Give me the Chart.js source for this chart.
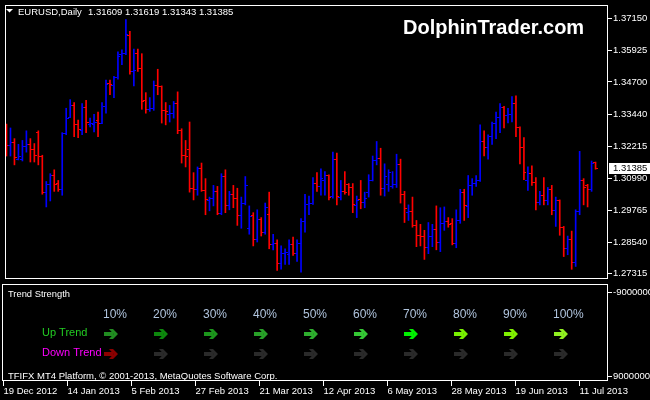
<!DOCTYPE html>
<html>
<head>
<meta charset="utf-8">
<script src="https://cdn.jsdelivr.net/npm/chart.js@4.4.1/dist/chart.umd.min.js"></script>
<style>
  html, body { margin: 0; padding: 0; background: #000; }
  #wrap { position: relative; width: 650px; height: 400px; overflow: hidden; background: #000; }
  #priceCanvas { position: absolute; left: 0; top: 0; }
  #trendCanvas { position: absolute; left: 0; top: 284px; }
</style>
</head>
<body>
<div id="wrap">
  <canvas id="priceCanvas" width="650" height="284"></canvas>
  <canvas id="trendCanvas" width="650" height="116"></canvas>
</div>
<script>
// EURUSD daily bars, 19 Dec 2012 .. 17 Jul 2013
const opens = [
  1.3263,1.3226,1.3237,1.3173,1.3173,1.3222,1.3230,1.3211,1.3275,1.3185,
  1.3046,1.3076,1.3110,1.3079,1.3057,1.3271,1.3335,1.3380,1.3305,1.3282,
  1.3372,1.3308,1.3308,1.3320,1.3312,1.3376,1.3466,1.3455,1.3489,1.3575,
  1.3579,1.3650,1.3511,1.3579,1.3522,1.3399,1.3365,1.3369,1.3455,1.3451,
  1.3361,1.3346,1.3350,1.3387,1.3282,1.3188,1.3211,1.3061,1.3057,1.3136,
  1.3053,1.3012,1.3023,1.3049,1.2963,1.3106,1.2993,1.3038,1.3023,1.2956,
  1.3001,1.2907,1.2956,1.2862,1.2941,1.2892,1.2959,1.2843,1.2850,1.2772,
  1.2809,1.2805,1.2843,1.2809,1.2847,1.2933,1.2997,1.3001,1.3079,1.3068,
  1.3091,1.3110,1.3031,1.3173,1.3027,1.3049,1.3076,1.3064,1.2993,1.3016,
  1.3008,1.3046,1.3091,1.3166,1.3177,1.3061,1.3076,1.3068,1.3076,1.3151,
  1.3038,1.2967,1.2971,1.2918,1.2880,1.2877,1.2832,1.2877,1.2903,1.2854,
  1.2926,1.2933,1.2926,1.2847,1.2937,1.3046,1.2989,1.3072,1.3079,1.3091,
  1.3241,1.3218,1.3260,1.3312,1.3335,1.3372,1.3342,1.3346,1.3387,1.3293,
  1.3218,1.3091,1.3117,1.3083,1.3008,1.3034,1.3012,1.3057,1.2974,1.3012,
  1.2911,1.2828,1.2862,1.2775,1.2971,1.3091,1.3072,1.3057,1.31609
];
const highs = [
  1.3308,1.3293,1.3252,1.3230,1.3245,1.3282,1.3252,1.3233,1.3282,1.3188,
  1.3087,1.3117,1.3132,1.3091,1.3275,1.3369,1.3402,1.3391,1.3323,1.3387,
  1.3399,1.3331,1.3346,1.3354,1.3391,1.3477,1.3477,1.3492,1.3586,1.3594,
  1.3710,1.3665,1.3597,1.3597,1.3579,1.3429,1.3410,1.3474,1.3519,1.3455,
  1.3391,1.3380,1.3395,1.3432,1.3290,1.3245,1.3316,1.3121,1.3143,1.3158,
  1.3098,1.3027,1.3072,1.3068,1.3117,1.3132,1.3049,1.3072,1.3061,1.3027,
  1.3106,1.2993,1.2967,1.2978,1.2948,1.3004,1.3046,1.2884,1.2862,1.2839,
  1.2828,1.2862,1.2873,1.2862,1.2944,1.3038,1.3031,1.3102,1.3121,1.3136,
  1.3125,1.3113,1.3200,1.3196,1.3091,1.3125,1.3079,1.3079,1.3031,1.3091,
  1.3046,1.3113,1.3185,1.3241,1.3215,1.3155,1.3132,1.3125,1.3192,1.3173,
  1.3049,1.2997,1.3027,1.2937,1.2922,1.2899,1.2929,1.2922,1.2993,1.2986,
  1.2989,1.2948,1.2944,1.2978,1.3057,1.3057,1.3110,1.3098,1.3110,1.3305,
  1.3282,1.3267,1.3316,1.3354,1.3387,1.3376,1.3369,1.3414,1.3417,1.3297,
  1.3256,1.3143,1.3147,1.3102,1.3049,1.3102,1.3064,1.3072,1.3027,1.3016,
  1.2914,1.2877,1.2896,1.2978,1.3203,1.3098,1.3076,1.3166,1.31619
];
const lows = [
  1.3185,1.3185,1.3151,1.3170,1.3166,1.3200,1.3162,1.3162,1.3151,1.3038,
  1.2989,1.3012,1.3049,1.3049,1.3034,1.3267,1.3333,1.3260,1.3256,1.3267,
  1.3275,1.3297,1.3278,1.3260,1.3310,1.3350,1.3421,1.3410,1.3481,1.3537,
  1.3575,1.3500,1.3455,1.3511,1.3365,1.3350,1.3357,1.3361,1.3421,1.3312,
  1.3305,1.3316,1.3331,1.3271,1.3158,1.3143,1.3046,1.3016,1.3034,1.3049,
  1.2959,1.2974,1.2993,1.2959,1.2959,1.2967,1.2978,1.2986,1.2918,1.2907,
  1.2997,1.2884,1.2839,1.2854,1.2877,1.2884,1.2828,1.2824,1.2745,1.2749,
  1.2768,1.2768,1.2802,1.2779,1.2738,1.2892,1.2959,1.2999,1.3049,1.3034,
  1.3034,1.3016,1.3023,1.2997,1.3016,1.3038,1.3034,1.2967,1.2948,1.2982,
  1.2986,1.3027,1.3089,1.3151,1.3034,1.3031,1.3049,1.3061,1.3064,1.3004,
  1.2929,1.2937,1.2911,1.2836,1.2839,1.2787,1.2809,1.2836,1.2824,1.2817,
  1.2899,1.2911,1.2843,1.2832,1.2926,1.2937,1.2948,1.3034,1.3068,1.3087,
  1.3185,1.3173,1.3230,1.3252,1.3275,1.3293,1.3312,1.3316,1.3260,1.3155,
  1.3094,1.3053,1.3072,1.2978,1.2997,1.2997,1.2997,1.2959,1.2914,1.2880,
  1.2798,1.2805,1.2749,1.2760,1.2959,1.2997,1.2989,1.3049,1.31343
];
const closes = [
  1.3226,1.3237,1.3181,1.3185,1.3222,1.3230,1.3211,1.3188,1.3185,1.3046,
  1.3076,1.3110,1.3076,1.3057,1.3271,1.3331,1.3380,1.3305,1.3286,1.3372,
  1.3316,1.3312,1.3316,1.3312,1.3376,1.3459,1.3459,1.3489,1.3567,1.3579,
  1.3654,1.3511,1.3515,1.3522,1.3395,1.3365,1.3369,1.3455,1.3451,1.3361,
  1.3357,1.3350,1.3387,1.3282,1.3188,1.3185,1.3061,1.3057,1.3136,1.3053,
  1.3016,1.3023,1.3049,1.2963,1.3106,1.2993,1.3038,1.3023,1.2956,1.3001,
  1.3072,1.2952,1.2862,1.2941,1.2892,1.2986,1.2843,1.2850,1.2772,1.2809,
  1.2813,1.2843,1.2809,1.2847,1.2933,1.2997,1.3001,1.3079,1.3068,1.3098,
  1.3110,1.3027,1.3173,1.3031,1.3049,1.3046,1.3064,1.2997,1.3012,1.3008,
  1.3023,1.3091,1.3166,1.3177,1.3061,1.3106,1.3121,1.3076,1.3151,1.3038,
  1.2982,1.2971,1.2918,1.2880,1.2877,1.2832,1.2877,1.2903,1.2854,1.2926,
  1.2933,1.2922,1.2847,1.2937,1.3046,1.2993,1.3072,1.3079,1.3091,1.3241,
  1.3218,1.3260,1.3312,1.3335,1.3372,1.3342,1.3346,1.3387,1.3293,1.3218,
  1.3121,1.3117,1.3083,1.3008,1.3034,1.3012,1.3057,1.2974,1.3012,1.2911,
  1.2828,1.2862,1.2775,1.2971,1.3091,1.3064,1.3057,1.3158,1.31385
];

// one date label every 16 bars, starting at bar 0
const dateLabels = ['19 Dec 2012', '14 Jan 2013', '5 Feb 2013', '27 Feb 2013', '21 Mar 2013',
  '12 Apr 2013', '6 May 2013', '28 May 2013', '19 Jun 2013', '11 Jul 2013'];
const labelStep = 16;
const priceTicks = [1.37150, 1.35925, 1.34700, 1.33440, 1.32215, 1.30990, 1.29765, 1.28540, 1.27315];
const panelTicks = [-90000000, 90000000];

// Trend Strength indicator table
const strengthLevels = ['10%', '20%', '30%', '40%', '50%', '60%', '70%', '80%', '90%', '100%'];
const upArrowColors = ['#218c21', '#0d870d', '#1c961c', '#28a028', '#2eae2e', '#34c834', '#00f000', '#78f000', '#80f000', '#90f020'];
const downArrowColors = ['#8b0000', '#2a2a2a', '#2a2a2a', '#2a2a2a', '#2a2a2a', '#2a2a2a', '#2a2a2a', '#2a2a2a', '#2a2a2a', '#2a2a2a'];

const FONT = "'Liberation Sans', Arial, sans-serif";
const UP = '#0000ff';
const DOWN = '#ff0000';
const last = closes.length - 1;
const barColors = closes.map((c, i) => (c >= opens[i] ? UP : DOWN));

// bar i sits at pixel 3.5 + 4*i
const xMin = -0.375;
const xMax = 151.125;

// tiny open/close tick marks as point images
function tickImage(color, left) {
  const c = document.createElement('canvas');
  c.width = 5;
  c.height = 1;
  const g = c.getContext('2d');
  g.fillStyle = color;
  g.fillRect(left ? 0 : 3, 0, 2, 1);
  return c;
}
const openImg = { up: tickImage(UP, true), down: tickImage(DOWN, true) };
const closeImg = { up: tickImage(UP, false), down: tickImage(DOWN, false) };
const dir = i => (closes[i] >= opens[i] ? 'up' : 'down');

const framePlugin = {
  id: 'frame',
  beforeDatasetsDraw(chart) {
    chart.ctx.imageSmoothingEnabled = false;
  },
  afterDraw(chart) {
    const a = chart.chartArea;
    const ctx = chart.ctx;
    ctx.save();
    ctx.strokeStyle = '#fff';
    ctx.lineWidth = 1;
    ctx.strokeRect(a.left + 0.5, a.top + 0.5, a.right - a.left - 1, a.bottom - a.top - 1);
    ctx.restore();
  }
};

const priceOverlay = {
  id: 'priceOverlay',
  afterDraw(chart) {
    const ctx = chart.ctx;
    ctx.save();
    // symbol line
    ctx.fillStyle = '#fff';
    ctx.beginPath();
    ctx.moveTo(6, 9);
    ctx.lineTo(13, 9);
    ctx.lineTo(9.5, 12.5);
    ctx.closePath();
    ctx.fill();
    ctx.font = '9.5px ' + FONT;
    ctx.textBaseline = 'alphabetic';
    ctx.fillText('EURUSD,Daily', 18, 14.5);
    const ohlc = [opens[last], highs[last], lows[last], closes[last]].map(v => v.toFixed(5)).join(' ');
    ctx.fillText(ohlc, 88, 14.5);

    // watermark
    ctx.font = 'bold 20px ' + FONT;
    ctx.fillText('DolphinTrader.com', 403, 33.5);

    // current price box
    const y = chart.scales.y.getPixelForValue(closes[last]);
    ctx.fillStyle = '#fff';
    ctx.fillRect(609, Math.round(y - 5), 41, 11);
    ctx.fillStyle = '#000';
    ctx.font = '9.5px ' + FONT;
    ctx.textBaseline = 'middle';
    ctx.fillText(closes[last].toFixed(5), 613, y + 0.5);
    ctx.restore();
  }
};

new Chart(document.getElementById('priceCanvas'), {
  type: 'bar',
  data: {
    datasets: [
      {
        type: 'bar',
        data: highs.map((h, i) => ({ x: i, y: [lows[i], h] })),
        backgroundColor: barColors,
        borderWidth: 0,
        barThickness: 1,
        order: 2
      },
      {
        type: 'line',
        showLine: false,
        data: opens.map((o, i) => ({ x: i, y: o })),
        pointStyle: ctx => openImg[dir(ctx.dataIndex)],
        pointRadius: 2,
        order: 1
      },
      {
        type: 'line',
        showLine: false,
        data: closes.map((c, i) => ({ x: i, y: c })),
        pointStyle: ctx => closeImg[dir(ctx.dataIndex)],
        pointRadius: 2,
        order: 1
      }
    ]
  },
  options: {
    responsive: false,
    animation: false,
    events: [],
    layout: { padding: { left: 2, top: 2, right: 0, bottom: 1 } },
    plugins: { legend: { display: false }, tooltip: { enabled: false } },
    scales: {
      x: { type: 'linear', display: false, min: xMin, max: xMax, offset: false, grid: { offset: false } },
      y: {
        type: 'linear',
        position: 'right',
        beginAtZero: false,
        min: 1.27116,
        max: 1.376643,
        afterBuildTicks: s => { s.ticks = priceTicks.map(v => ({ value: v })); },
        afterFit: s => { s.width = 42; s.paddingTop = 0; s.paddingBottom = 0; },
        ticks: { color: '#fff', padding: 1, font: { family: FONT, size: 9.5 }, callback: v => v.toFixed(5) },
        grid: { drawOnChartArea: false, color: '#fff', tickLength: 4 },
        border: { display: false }
      }
    }
  },
  plugins: [framePlugin, priceOverlay]
});

const trendOverlay = {
  id: 'trendOverlay',
  afterDraw(chart) {
    const ctx = chart.ctx;
    const colX = 103;
    const colStep = 50;
    ctx.save();
    ctx.textBaseline = 'alphabetic';
    ctx.fillStyle = '#fff';
    ctx.font = '9.5px ' + FONT;
    ctx.fillText('Trend Strength', 8, 13, 62);
    ctx.fillText('TFIFX MT4 Platform, \u00a9 2001-2013, MetaQuotes Software Corp.', 8, 94.5, 270);

    ctx.font = '12px ' + FONT;
    ctx.fillStyle = '#b0c4de';
    strengthLevels.forEach((t, k) => ctx.fillText(t, colX + k * colStep, 34));

    ctx.font = '11px ' + FONT;
    ctx.fillStyle = '#22cc22';
    ctx.fillText('Up Trend', 42, 51.5);
    ctx.fillStyle = '#ff00ff';
    ctx.fillText('Down Trend', 42, 71.5);

    const arrow = (x, y, color) => {
      ctx.fillStyle = color;
      ctx.fillRect(x, y - 2, 9, 4);
      ctx.beginPath();
      ctx.moveTo(x + 5, y - 5);
      ctx.lineTo(x + 9, y - 5);
      ctx.lineTo(x + 14, y);
      ctx.lineTo(x + 9, y + 5);
      ctx.lineTo(x + 5, y + 5);
      ctx.lineTo(x + 9.5, y);
      ctx.closePath();
      ctx.fill();
    };
    strengthLevels.forEach((t, k) => {
      arrow(colX + 1 + k * colStep, 50, upArrowColors[k]);
      arrow(colX + 1 + k * colStep, 70, downArrowColors[k]);
    });
    ctx.restore();
  }
};

new Chart(document.getElementById('trendCanvas'), {
  type: 'scatter',
  data: { datasets: [] },
  options: {
    responsive: false,
    animation: false,
    events: [],
    layout: { padding: { left: 2, top: 0, right: 0, bottom: 0 } },
    plugins: { legend: { display: false }, tooltip: { enabled: false } },
    scales: {
      x: {
        type: 'linear',
        position: 'bottom',
        min: xMin,
        max: xMax,
        afterBuildTicks: s => { s.ticks = dateLabels.map((d, k) => ({ value: k * labelStep })); },
        afterFit: s => { s.height = 19; s.paddingLeft = 0; s.paddingRight = 0; },
        ticks: {
          color: '#fff',
          align: 'start',
          padding: 0,
          autoSkip: false,
          maxRotation: 0,
          font: { family: FONT, size: 9.5 },
          callback: v => dateLabels[Math.round(v / labelStep)]
        },
        grid: { drawOnChartArea: false, color: '#fff', tickLength: 5 },
        border: { display: false }
      },
      y: {
        type: 'linear',
        position: 'right',
        reverse: true,
        min: -108800000,
        max: 100800000,
        afterBuildTicks: s => { s.ticks = panelTicks.map(v => ({ value: v })); },
        afterFit: s => { s.width = 42; s.paddingTop = 0; s.paddingBottom = 0; },
        ticks: { color: '#fff', padding: 1, font: { family: FONT, size: 9.5 }, callback: v => String(v) },
        grid: { drawOnChartArea: false, color: '#fff', tickLength: 4 },
        border: { display: false }
      }
    }
  },
  plugins: [framePlugin, trendOverlay]
});
</script>
</body>
</html>
